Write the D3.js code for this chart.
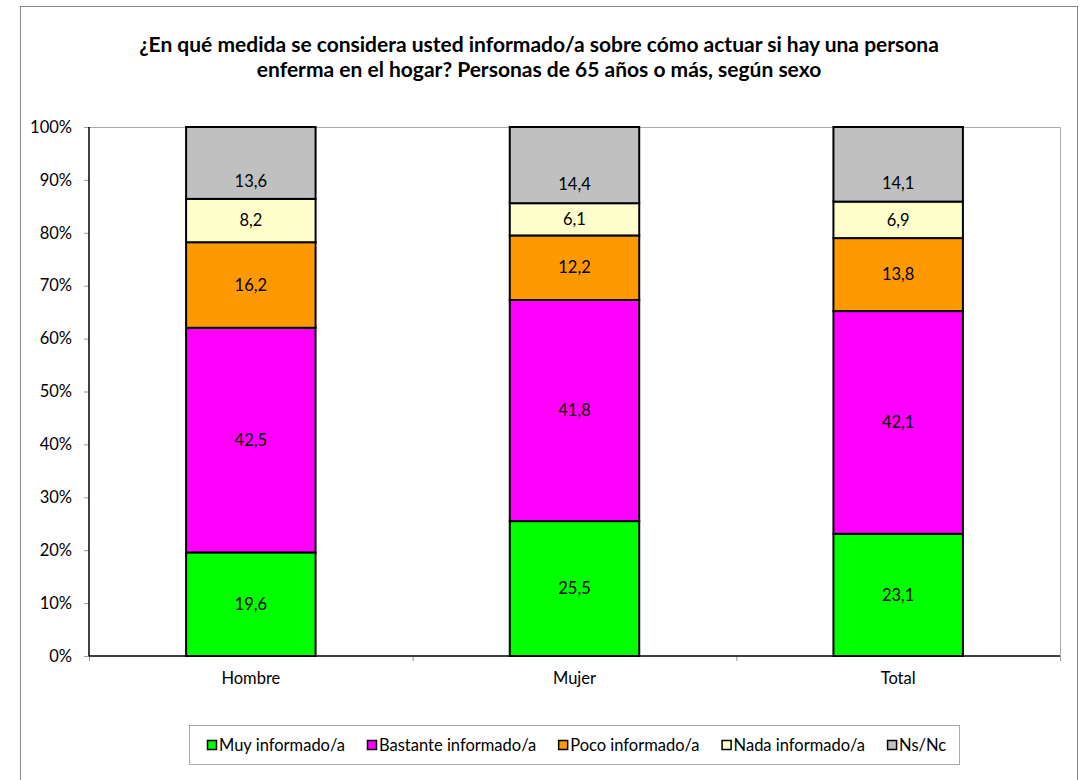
<!DOCTYPE html>
<html><head><meta charset="utf-8">
<script src="https://cdn.jsdelivr.net/npm/d3@7"></script>
<style>body{margin:0;background:#fff;}svg{display:block;font-family:Lato,"Open Sans",sans-serif;}</style>
</head><body>
<svg id="c" width="1079" height="780"></svg>
<script>
const categories = ["Hombre", "Mujer", "Total"];
const seriesNames = ["Muy informado/a", "Bastante informado/a", "Poco informado/a", "Nada informado/a", "Ns/Nc"];
const muy = [19.6, 25.5, 23.1];
const bastante = [42.5, 41.8, 42.1];
const poco = [16.2, 12.2, 13.8];
const nada = [8.2, 6.1, 6.9];
const nsnc = [13.6, 14.4, 14.1];
const yTicks = [0, 0.1, 0.2, 0.3, 0.4, 0.5, 0.6, 0.7, 0.8, 0.9, 1.0];
const colors = ["#00FF00", "#FF00FF", "#FF9900", "#FFFFCC", "#C0C0C0"];
const titleLines = ["¿En qué medida se considera usted informado/a sobre cómo actuar si hay una persona",
                    "enferma en el hogar? Personas de 65 años o más, según sexo"];

const seriesValues = [muy, bastante, poco, nada, nsnc];
const rows = categories.map((c, i) => {
  const r = {cat: c};
  seriesNames.forEach((s, k) => r[s] = seriesValues[k][i]);
  return r;
});
const stack = d3.stack().keys(seriesNames).offset(d3.stackOffsetExpand);
const stacked = stack(rows);

const svg = d3.select("#c");
const FS = 16.5;
const m = {left: 89, right: 1060, top: 127, bottom: 656};

// outer border
svg.append("rect").attr("x", 20.5).attr("y", 6.5).attr("width", 1057).attr("height", 800)
  .attr("fill", "#fff").attr("stroke", "#888").attr("stroke-width", 1);

// title
const t = svg.append("text").attr("text-anchor", "middle").attr("font-weight", "bold")
  .attr("font-size", 21).attr("fill", "#000");
titleLines.forEach((l, i) => t.append("tspan").attr("x", 539).attr("y", 52 + i * 25).text(l));

const x = d3.scaleBand().domain(categories).range([m.left, m.right]).paddingInner(0.6).paddingOuter(0.3);
const xb = d3.scaleBand().domain(categories).range([m.left, m.right]);
const y = d3.scaleLinear().domain([0, 1]).range([m.bottom, m.top]);

// plot area top/right border
svg.append("path").attr("d", `M${m.left},${m.top + 0.5}H${m.right + 0.5}V${m.bottom}`)
  .attr("fill", "none").attr("stroke", "#aaa").attr("stroke-width", 1);

// bars
const g = svg.append("g");
stacked.forEach((s, k) => {
  g.selectAll(null).data(s).enter().append("rect")
    .attr("x", d => x(d.data.cat))
    .attr("width", x.bandwidth())
    .attr("y", d => y(d[1]))
    .attr("height", d => y(d[0]) - y(d[1]))
    .attr("fill", colors[k])
    .attr("stroke", "#000").attr("stroke-width", 2);
});
// labels
const fmt = v => d3.format(".1f")(v).replace(".", ",");
stacked.forEach((s, k) => {
  const frac = k === seriesNames.length - 1 ? 0.25 : 0.5;
  g.selectAll(null).data(s).enter().append("text")
    .attr("x", d => x(d.data.cat) + x.bandwidth() / 2)
    .attr("y", d => y(d[0] + (d[1] - d[0]) * frac))
    .attr("dy", "0.35em")
    .attr("text-anchor", "middle").attr("font-size", FS).attr("fill", "#000")
    .text(d => fmt(d.data[s.key]));
});

// y axis
const ya = svg.append("g").attr("transform", `translate(${m.left},0)`)
  .call(d3.axisLeft(y).tickValues(yTicks).tickFormat(d3.format(".0%")).tickSize(5).tickPadding(12));
ya.select(".domain").remove();
ya.selectAll(".tick line").attr("stroke", "#999");
ya.selectAll("text").attr("font-size", FS).attr("fill", "#000").attr("font-family", "Lato");
svg.append("line").attr("x1", m.left).attr("x2", m.left).attr("y1", m.top).attr("y2", m.bottom)
  .attr("stroke", "#000").attr("stroke-width", 1.5);

// x axis ticks at band boundaries
const bounds = categories.map(c => xb(c)).concat([m.right]);
svg.selectAll(null).data(bounds).enter().append("line")
  .attr("x1", d => d + 0.5).attr("x2", d => d + 0.5).attr("y1", m.bottom).attr("y2", m.bottom + 5)
  .attr("stroke", "#999");
svg.append("line").attr("x1", m.left).attr("x2", m.right).attr("y1", m.bottom).attr("y2", m.bottom)
  .attr("stroke", "#000").attr("stroke-width", 1.5);
svg.selectAll(null).data(categories).enter().append("text")
  .attr("x", d => xb(d) + xb.bandwidth() / 2).attr("y", 684)
  .attr("text-anchor", "middle").attr("font-size", FS).attr("fill", "#000").text(d => d);

// legend
svg.append("rect").attr("x", 189.5).attr("y", 725.5).attr("width", 770).attr("height", 39)
  .attr("fill", "#fff").attr("stroke", "#aaa");
let lx = 207;
seriesNames.forEach((s, k) => {
  const lg = svg.append("g").attr("transform", `translate(${lx},0)`);
  lg.append("rect").attr("x", 0.5).attr("y", 740.5).attr("width", 9).attr("height", 9)
    .attr("fill", colors[k]).attr("stroke", "#000").attr("stroke-width", 1.5);
  const tx = lg.append("text").attr("x", 12).attr("y", 751).attr("font-size", FS).attr("fill", "#000").text(s);
  lx += 12 + tx.node().getComputedTextLength() + 22;
});
</script>
</body></html>
